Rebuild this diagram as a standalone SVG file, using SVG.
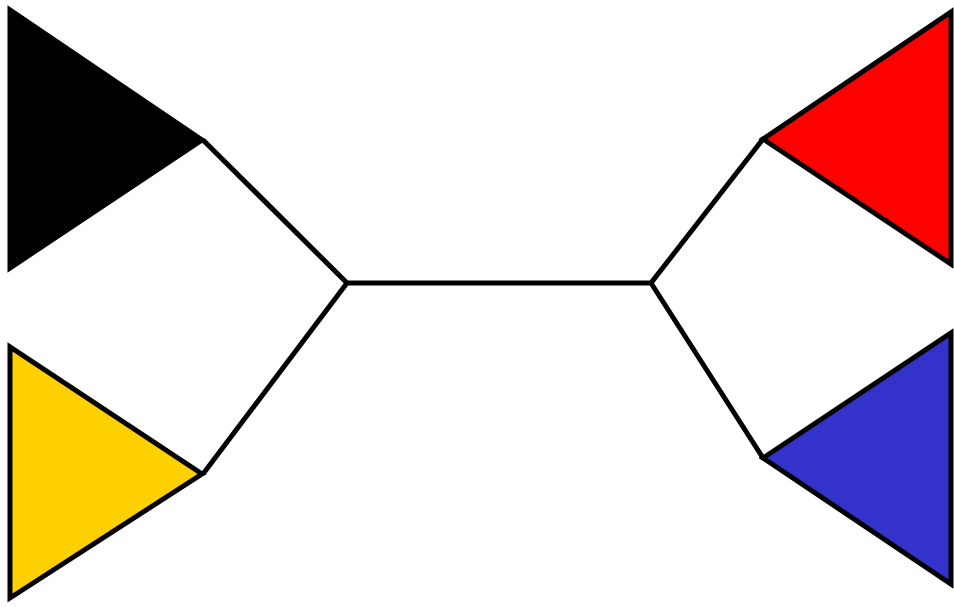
<svg xmlns="http://www.w3.org/2000/svg" width="954" height="607" viewBox="0 0 954 607">
<style>
.n{stroke:#000;stroke-width:5;stroke-linejoin:miter}
.e{stroke:#000;stroke-width:5;fill:none}
</style>
<rect width="954" height="607" fill="#fff"/>
<g id="connectors">
<path class="e" d="M203,140 L347,283 L203,474 M347,283 L651,283 M763,139 L651,283 L763,458"/>
</g>
<g id="black"><polygon class="n" fill="#000" points="10,10 10,268 202,140"/></g>
<g id="yellow"><polygon class="n" fill="#FFD000" points="10,347 10,598 202,474"/></g>
<g id="red"><polygon class="n" fill="#FF0000" points="951,12 951,264 763,139"/></g>
<g id="blue"><polygon class="n" fill="#3333CC" points="951,333 951,584 763,458"/></g>
</svg>
